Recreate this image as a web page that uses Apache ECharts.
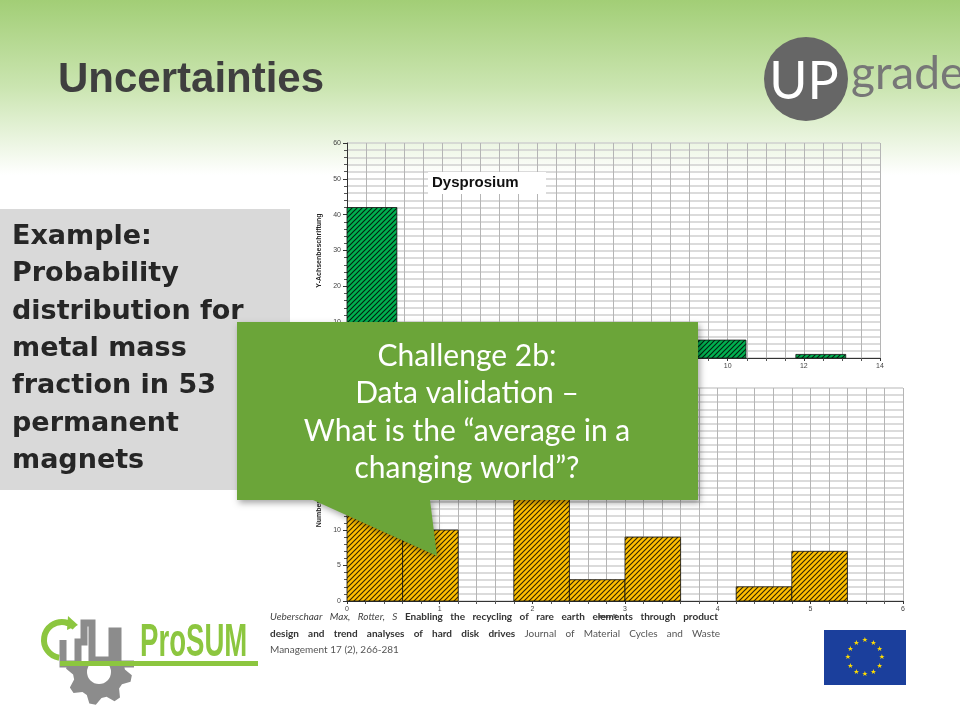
<!DOCTYPE html>
<html><head><meta charset="utf-8">
<script src="https://cdn.jsdelivr.net/npm/echarts@6/dist/echarts.min.js"></script>
<style>html,body{margin:0;padding:0;background:#fff}#c{width:960px;height:720px}</style>
</head><body><div id="c"></div>
<script>
// ---- data ----
const dyEdges = [0, 1.31, 2.62, 3.93, 5.24, 6.55, 7.86, 9.17, 10.48, 11.79, 13.1];
const dyCounts = [42, 2, 1, 0, 1, 0, 1, 5, 0, 1];
const dyXTicks = [0, 2, 4, 6, 8, 10, 12, 14];
const dyYTicks = [0, 10, 20, 30, 40, 50, 60];
const ndEdges = [0, 0.6, 1.2, 1.8, 2.4, 3.0, 3.6, 4.2, 4.8, 5.4, 6.0];
const ndCounts = [14, 10, 0, 15, 3, 9, 0, 2, 7, 0];
const ndXTicks = [0, 1, 2, 3, 4, 5, 6];
const ndYTicks = [0, 5, 10, 15, 20, 25, 30];
const boxLines = ['Example:', 'Probability', 'distribution for', 'metal mass', 'fraction in 53', 'permanent', 'magnets'];
const calloutLines = ['Challenge 2b:', 'Data validation \u2013', 'What is the \u201caverage in a', 'changing world\u201d?'];
const citeAuthors = 'Ueberschaar Max, Rotter, S';
const citeTitle1 = 'Enabling the recycling of rare earth elements through product';
const citeTitle2 = 'design and trend analyses of hard disk drives';
const citeJournal1 = 'Journal of Material Cycles and Waste';
const citeJournal2 = 'Management 17 (2), 266-281';

function makePattern(bg) {
  const s = 5;
  const cv = document.createElement('canvas');
  cv.width = s; cv.height = s;
  const g = cv.getContext('2d');
  g.fillStyle = bg; g.fillRect(0, 0, s, s);
  g.strokeStyle = 'rgba(0,0,0,0.8)'; g.lineWidth = 1.15;
  g.beginPath();
  g.moveTo(0, s); g.lineTo(s, 0);
  g.moveTo(-1, 1); g.lineTo(1, -1);
  g.moveTo(s - 1, s + 1); g.lineTo(s + 1, s - 1);
  g.stroke();
  return {image: cv, repeat: 'repeat'};
}
const greenPat = makePattern('#00b050');
const yellowPat = makePattern('#ffc000');

function histData(edges, counts) {
  const out = [];
  for (let i = 0; i < counts.length; i++) if (counts[i] > 0) out.push([edges[i], edges[i + 1], counts[i]]);
  return out;
}
function renderer(pat) {
  return function (params, api) {
    const p0 = api.coord([api.value(0), api.value(2)]);
    const p1 = api.coord([api.value(1), 0]);
    return {type: 'rect', shape: {x: p0[0], y: p0[1], width: p1[0] - p0[0], height: p1[1] - p0[1]},
      style: {fill: pat, stroke: '#111', lineWidth: 0.8}};
  };
}

const axisLbl = {color: '#444', fontSize: 7, fontFamily: 'Liberation Sans'};
function xAxis(gi, ticks, interval, minorN) {
  return {type: 'value', gridIndex: gi, min: ticks[0], max: ticks[ticks.length - 1], interval: interval,
    axisLine: {lineStyle: {color: '#333', width: 1}}, axisTick: {show: true, length: 3, lineStyle: {color: '#333'}},
    minorTick: {show: true, splitNumber: minorN, length: 3, lineStyle: {color: '#555'}},
    axisLabel: Object.assign({margin: 5}, axisLbl),
    splitLine: {show: true, lineStyle: {color: '#b5b5b5', width: 1}},
    minorSplitLine: {show: true, lineStyle: {color: '#b5b5b5', width: 1}}};
}
function yAxis(gi, ticks, interval, minorN, name) {
  return {type: 'value', gridIndex: gi, min: ticks[0], max: ticks[ticks.length - 1], interval: interval,
    name: name, nameLocation: 'middle', nameGap: 19, nameRotate: 90,
    nameTextStyle: {fontSize: 7, fontWeight: 'bold', color: '#222', fontFamily: 'Liberation Sans'},
    axisLine: {show: true, lineStyle: {color: '#333', width: 1}}, axisTick: {show: true, length: 4, lineStyle: {color: '#333'}},
    minorTick: {show: true, splitNumber: minorN, length: 3, lineStyle: {color: '#555'}},
    axisLabel: Object.assign({margin: 6}, axisLbl),
    splitLine: {show: true, lineStyle: {color: '#cfcfcf', width: 1.5}},
    minorSplitLine: {show: true, lineStyle: {color: '#cfcfcf', width: 1.5}}};
}

// justified text: segments = [[text, font, color], ...]
const mctx = document.createElement('canvas').getContext('2d');
function justify(G, segments, x, y, width, z) {
  const words = [];
  segments.forEach(s => s[0].split(' ').forEach(w => { if (w) words.push({w: w, font: s[1], fill: s[2]}); }));
  let total = 0;
  words.forEach(o => { mctx.font = o.font; o.width = mctx.measureText(o.w).width; total += o.width; });
  const gap = words.length > 1 ? (width - total) / (words.length - 1) : 0;
  let cx = x;
  words.forEach(o => {
    G.push({type: 'text', z: z, style: {text: o.w, x: cx, y: y, textVerticalAlign: 'middle', font: o.font, fill: o.fill}});
    cx += o.width + gap;
  });
}

// ---- graphics ----
const G = [];
G.push({type: 'rect', z: -10, shape: {x: 0, y: 0, width: 960, height: 175},
  style: {fill: {type: 'linear', x: 0, y: 0, x2: 0, y2: 1, colorStops: [{offset: 0, color: '#a2ce76'}, {offset: 0.5, color: '#cbe5b1'}, {offset: 1, color: '#ffffff'}]}}});
G.push({type: 'text', z: 50, style: {text: 'Uncertainties', x: 58, y: 80, textVerticalAlign: 'middle',
  font: 'bold 42px "Liberation Sans"', fill: '#3f3f3f'}});
// left grey box
G.push({type: 'rect', z: 50, shape: {x: 0, y: 209, width: 290, height: 281}, style: {fill: '#d9d9d9'}});
const boxFont = 'bold 27px "DejaVu Sans"';
boxLines.forEach((t, i) => G.push({type: 'text', z: 51, style: {text: t, x: 12, y: 237 + i * 37.3, textVerticalAlign: 'middle', font: boxFont, fill: '#262626'}}));
// Dysprosium title
G.push({type: 'rect', z: 20, shape: {x: 428, y: 172, width: 118, height: 22}, style: {fill: '#fff'}});
G.push({type: 'text', z: 21, style: {text: 'Dysprosium', x: 432, y: 183, textVerticalAlign: 'middle',
  font: 'bold 15px "Liberation Sans"', fill: '#111'}});
// x axis name bottom
G.push({type: 'text', z: 21, style: {text: 'mass-%', x: 608, y: 617, textAlign: 'center', textVerticalAlign: 'middle',
  font: 'bold 5px "Liberation Sans"', fill: '#222'}});
// citation
const fI = 'italic 10px Lato', fB = 'bold 10px Lato', fN = '10px Lato';
justify(G, [[citeAuthors, fI, '#444'], [citeTitle1, fB, '#333']], 270, 617, 448, 60);
justify(G, [[citeTitle2, fB, '#333'], [citeJournal1, fN, '#555']], 270, 634, 450, 60);
G.push({type: 'text', z: 60, style: {x: 270, y: 650, textVerticalAlign: 'middle', font: fN, fill: '#555', text: citeJournal2}});
// callout
G.push({type: 'polygon', z: 100, shape: {points: [[237, 322], [698, 322], [698, 500], [430, 500], [437, 556], [313, 500], [237, 500]]},
  style: {fill: '#6ba539', shadowBlur: 6, shadowOffsetX: 2, shadowOffsetY: 3, shadowColor: 'rgba(0,0,0,0.35)'}});
calloutLines.forEach((t, i) => G.push({type: 'text', z: 101, style: {text: t, x: 467, y: 356 + i * 37.5,
  textAlign: 'center', textVerticalAlign: 'middle', font: '30px Lato', fill: '#ffffff'}}));
// UPgrade logo
G.push({type: 'circle', z: 50, shape: {cx: 806, cy: 79, r: 42}, style: {fill: '#666666'}});
G.push({type: 'text', z: 51, style: {text: 'UP', x: 804, y: 82, textAlign: 'center', textVerticalAlign: 'middle',
  font: '52px Lato', fill: '#ffffff'}});
G.push({type: 'text', z: 51, style: {text: 'grade', x: 851, y: 74, textVerticalAlign: 'middle',
  font: '46px Lato', fill: '#777777'}});
// EU flag
G.push({type: 'rect', z: 50, shape: {x: 824, y: 630, width: 82, height: 55}, style: {fill: '#1b3f9c'}});
for (let k = 0; k < 12; k++) {
  const a = k * Math.PI / 6;
  G.push({type: 'text', z: 51, style: {text: '\u2605', x: 865 + 17 * Math.sin(a), y: 657.5 - 17 * Math.cos(a),
    textAlign: 'center', textVerticalAlign: 'middle', font: '7px "DejaVu Sans"', fill: '#ffdd00'}});
}
// ProSUM logo (simplified)
const gearPts = [];
for (let k = 0; k < 16; k++) {
  const a = k * Math.PI / 8 + Math.PI / 16; const rr = (k % 2 === 0) ? 33 : 26;
  gearPts.push([99 + rr * Math.cos(a - 0.1), 672 + rr * Math.sin(a - 0.1)]);
  gearPts.push([99 + rr * Math.cos(a + 0.1), 672 + rr * Math.sin(a + 0.1)]);
}
G.push({type: 'polygon', z: 50, shape: {points: gearPts}, style: {fill: '#8c8c8c'}});
G.push({type: 'circle', z: 51, shape: {cx: 99, cy: 672, r: 12}, style: {fill: '#ffffff'}});
G.push({type: 'rect', z: 51, shape: {x: 55, y: 630, width: 82, height: 36}, style: {fill: '#ffffff'}});
G.push({type: 'polyline', z: 52, shape: {points: [[63, 640], [63, 664], [78, 664], [78, 642], [84, 642], [84, 623], [92, 623], [92, 660], [112, 660], [112, 631], [118, 631], [118, 664], [134, 664]]},
  style: {stroke: '#8c8c8c', lineWidth: 7, fill: null}});
G.push({type: 'arc', z: 53, shape: {cx: 62, cy: 640, r: 18, startAngle: Math.PI * 0.55, endAngle: Math.PI * 1.75}, style: {stroke: '#8cc63f', lineWidth: 6, fill: null}});
G.push({type: 'polygon', z: 53, shape: {points: [[68, 616], [78, 625], [67, 630]]}, style: {fill: '#8cc63f'}});
G.push({type: 'rect', z: 53, shape: {x: 60, y: 661, width: 198, height: 5}, style: {fill: '#8cc63f'}});
G.push({type: 'text', z: 53, x: 140, y: 643, scaleX: 0.6, style: {text: 'ProSUM', x: 0, y: 0, textVerticalAlign: 'middle',
  font: 'bold 46px "Liberation Sans"', fill: '#8cc63f'}});

const chart = echarts.init(document.getElementById('c'), null, {renderer: 'canvas'});
chart.setOption({
  backgroundColor: '#ffffff',
  animation: false,
  grid: [{left: 347, right: 80, top: 143, bottom: 362}, {left: 347, right: 57, top: 388, bottom: 119}],
  xAxis: [xAxis(0, dyXTicks, 2, 4), xAxis(1, ndXTicks, 1, 5)],
  yAxis: [yAxis(0, dyYTicks, 10, 5, 'Y-Achsenbeschriftung'), yAxis(1, ndYTicks, 5, 5, 'Number of magnets')],
  series: [
    {type: 'custom', xAxisIndex: 0, yAxisIndex: 0, renderItem: renderer(greenPat), data: histData(dyEdges, dyCounts), z: 5},
    {type: 'custom', xAxisIndex: 1, yAxisIndex: 1, renderItem: renderer(yellowPat), data: histData(ndEdges, ndCounts), z: 5}
  ],
  graphic: {elements: G}
});
</script></body></html>
